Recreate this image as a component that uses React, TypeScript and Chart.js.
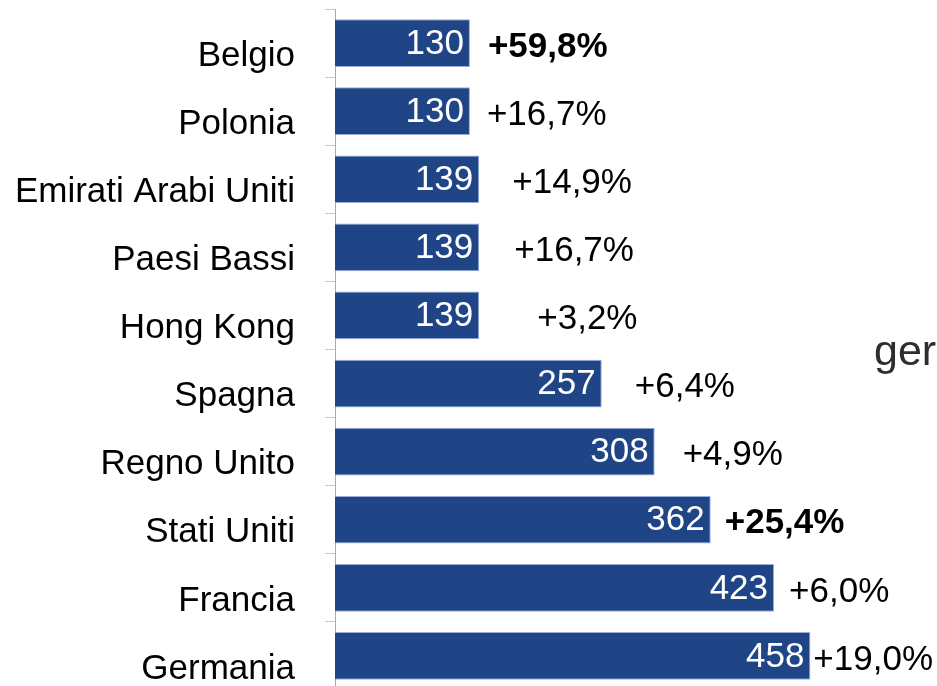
import React, { useEffect, useRef } from "react";
import { Chart, registerables } from "chart.js";

Chart.register(...registerables);

const categories = [
  "Belgio",
  "Polonia",
  "Emirati Arabi Uniti",
  "Paesi Bassi",
  "Hong Kong",
  "Spagna",
  "Regno Unito",
  "Stati Uniti",
  "Francia",
  "Germania",
];
const values = [130, 130, 139, 139, 139, 257, 308, 362, 423, 458];
const changes = ["+59,8%", "+16,7%", "+14,9%", "+16,7%", "+3,2%", "+6,4%", "+4,9%", "+25,4%", "+6,0%", "+19,0%"];
const highlighted = [true, false, false, false, false, false, false, true, false, false];
const sideText = "ger";

const FONT = "'Liberation Sans', Arial, Helvetica, sans-serif";

const labelPlugin = {
  id: "barLabels",
  afterDatasetsDraw(chart: any, _args: any, opts: any) {
    const ctx = chart.ctx;
    const meta = chart.getDatasetMeta(0);
    const gaps: number[] = opts.gaps || [];
    ctx.save();
    meta.data.forEach((bar: any, i: number) => {
      ctx.font = `35px ${FONT}`;
      ctx.fillStyle = "#ffffff";
      ctx.textAlign = "right";
      ctx.textBaseline = "middle";
      ctx.fillText(String(values[i]), bar.x - 6, bar.y + 1);
      ctx.font = `${highlighted[i] ? "bold " : ""}35px ${FONT}`;
      ctx.fillStyle = "#000000";
      ctx.textAlign = "left";
      ctx.fillText(changes[i], bar.x + (gaps[i] ?? 18), bar.y + 4);
    });
    ctx.font = `43px ${FONT}`;
    ctx.fillStyle = "#2e2e2e";
    ctx.textAlign = "left";
    ctx.textBaseline = "alphabetic";
    ctx.fillText(sideText, 874, 365);
    ctx.restore();
  },
};

export default function App() {
  const ref = useRef<HTMLCanvasElement | null>(null);

  useEffect(() => {
    document.body.style.margin = "0";
    document.body.style.overflow = "hidden";
    const canvas = ref.current!;
    const chart = new Chart(canvas, {
      type: "bar",
      data: {
        labels: categories,
        datasets: [
          {
            data: values,
            backgroundColor: "#1f4587",
            borderColor: "rgba(140,165,210,0.9)",
            borderWidth: 1,
            borderSkipped: "start",
            barPercentage: 0.7,
            categoryPercentage: 1.0,
          },
        ],
      },
      options: {
        indexAxis: "y",
        responsive: false,
        animation: false,
        devicePixelRatio: 1,
        layout: { padding: { top: 9, bottom: 10, left: 0, right: 0 } },
        plugins: {
          legend: { display: false },
          tooltip: { enabled: false },
          title: { display: false },
          barLabels: { gaps: [18, 17, 33, 35, 58, 33, 28, 14, 15, 3] },
        } as any,
        scales: {
          x: { display: false, min: 0, max: 580 },
          y: {
            afterFit: (s: any) => {
              s.width = 335;
              s.paddingTop = 0;
              s.paddingBottom = 0;
            },
            grid: {
              drawOnChartArea: false,
              offset: true,
              tickLength: 10,
              color: "#c8c8c8",
              lineWidth: 1,
            },
            border: { display: true, color: "#a8a8a8", width: 1 },
            ticks: {
              autoSkip: false,
              color: "#000000",
              font: { family: FONT, size: 35 },
              padding: 30,
              labelOffset: 13,
            },
          },
        },
      },
      plugins: [labelPlugin],
    });
    return () => chart.destroy();
  }, []);

  return (
    <div style={{ width: 937, height: 700 }}>
      <canvas ref={ref} width={937} height={700} style={{ display: "block" }} />
    </div>
  );
}
